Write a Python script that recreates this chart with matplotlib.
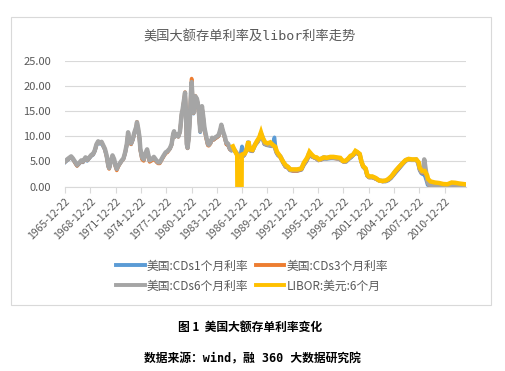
import matplotlib
matplotlib.use("Agg")
import matplotlib.pyplot as plt
from matplotlib.patches import Rectangle

plt.rcParams['font.family'] = ['Noto Sans CJK SC', 'DejaVu Sans']

# ---- data ----
cd_dates = [1965.97, 1966.3, 1966.7, 1966.9, 1967.2, 1967.4, 1967.7, 1967.9, 1968.1, 1968.4,
            1968.6, 1968.9, 1969.1, 1969.3, 1969.5, 1969.7, 1969.9, 1970.1, 1970.3, 1970.5,
            1970.7, 1970.9, 1971.1, 1971.2, 1971.4, 1971.6, 1971.8, 1971.95, 1972.1, 1972.3,
            1972.5, 1972.7, 1972.9, 1973.1, 1973.3, 1973.45, 1973.6, 1973.8, 1974.0, 1974.2,
            1974.4, 1974.5, 1974.65, 1974.8, 1974.9, 1975.1, 1975.3, 1975.5, 1975.7, 1975.85,
            1976.0, 1976.3, 1976.5, 1976.8, 1977.0, 1977.2, 1977.4, 1977.6, 1977.9, 1978.1,
            1978.4, 1978.6, 1978.8, 1978.9, 1979.0, 1979.2, 1979.4, 1979.6, 1979.8, 1979.9,
            1980.1, 1980.2, 1980.3, 1980.4, 1980.5, 1980.65, 1980.8, 1980.9, 1980.98, 1981.1,
            1981.2, 1981.3, 1981.4, 1981.6, 1981.7, 1981.85, 1982.0, 1982.1, 1982.2, 1982.35,
            1982.5, 1982.7, 1982.9, 1983.0, 1983.2, 1983.4, 1983.6, 1983.8, 1984.0, 1984.2,
            1984.4, 1984.5, 1984.7, 1984.9, 1985.1, 1985.3, 1985.5, 1985.7, 1985.9, 1986.1,
            1986.3, 1986.5, 1986.7, 1986.95, 1987.05, 1987.2, 1987.5, 1987.7, 1987.9, 1988.2,
            1988.5, 1988.8, 1989.0, 1989.2, 1989.4, 1989.6, 1989.9, 1990.2, 1990.5, 1990.8,
            1991.0, 1991.2, 1991.5, 1991.8, 1992.1, 1992.4, 1992.6, 1993.0, 1993.5, 1994.0,
            1994.3, 1994.6, 1994.9, 1995.1, 1995.4, 1995.7, 1996.0, 1996.3, 1996.6, 1997.0,
            1997.5, 1998.0, 1998.4, 1998.8, 1999.0, 1999.3, 1999.6, 1999.9, 2000.2, 2000.4,
            2000.6, 2000.9, 2001.1, 2001.3, 2001.6, 2001.8, 2002.0, 2002.4, 2002.8, 2003.2,
            2003.6, 2004.0, 2004.3, 2004.6, 2004.9, 2005.2, 2005.5, 2005.8, 2006.1, 2006.4,
            2006.7, 2007.0, 2007.4, 2007.6, 2007.8, 2008.0, 2008.2, 2008.4, 2008.55, 2008.8,
            2008.95, 2009.1, 2009.5, 2010.0, 2010.5, 2011.0, 2011.5, 2012.0, 2012.5, 2013.0,
            2013.4]

cd6 = [5.0, 5.5, 6.0, 5.6, 4.8, 4.3, 4.8, 5.2, 5.0, 5.8,
       5.3, 5.9, 6.3, 6.5, 7.2, 8.4, 9.0, 8.7, 8.9, 8.2,
       7.5, 6.2, 4.2, 3.7, 5.0, 6.2, 5.4, 4.2, 3.5, 4.2,
       4.7, 5.2, 5.6, 6.8, 8.5, 10.8, 9.2, 8.6, 9.5, 10.8,
       11.8, 12.8, 11.5, 9.8, 7.5, 5.8, 5.4, 6.6, 7.4, 6.3,
       5.2, 5.5, 5.9, 5.2, 4.8, 4.8, 5.4, 6.0, 6.8, 7.0,
       7.6, 8.4, 10.5, 11.0, 10.0, 10.4, 10.0, 11.0, 14.5, 15.2,
       17.5, 18.7, 15.0, 8.5, 7.7, 10.0, 14.5, 18.7, 20.8, 17.0,
       14.7, 16.5, 18.0, 17.5, 16.7, 14.5, 11.0, 14.0, 16.0, 14.0,
       11.7, 10.0, 8.5, 8.3, 8.7, 9.7, 9.5, 9.8, 10.0, 10.3,
       11.5, 12.3, 11.0, 10.0, 8.7, 8.5, 7.6, 7.3, 7.6, 7.2,
       6.7, 6.4, 6.0, 6.2, 6.1, 6.3, 7.6, 8.8, 7.4, 7.2,
       8.4, 9.0, 9.6, 10.5, 9.8, 8.6, 8.4, 8.3, 8.2, 8.0,
       7.0, 6.4, 6.0, 5.0, 4.1, 3.9, 3.4, 3.3, 3.3, 3.6,
       4.6, 5.3, 6.6, 6.3, 5.9, 5.7, 5.3, 5.4, 5.8, 5.7,
       5.8, 5.7, 5.6, 5.2, 5.0, 5.1, 5.6, 6.0, 6.5, 6.9,
       6.8, 6.4, 5.0, 4.0, 3.5, 2.2, 1.9, 1.9, 1.6, 1.2,
       1.1, 1.1, 1.4, 1.9, 2.5, 3.2, 3.7, 4.3, 4.8, 5.3,
       5.4, 5.3, 5.3, 5.4, 4.8, 3.6, 3.0, 2.9, 5.4, 2.5,
       1.0, 0.4, 0.3, 0.25, 0.3, 0.25, 0.3, 0.4, 0.35, 0.3,
       0.25]

cd3 = [4.9, 5.4, 5.9, 5.5, 4.6, 4.1, 4.7, 5.1, 4.9, 5.7,
       5.2, 5.8, 6.2, 6.4, 7.1, 8.3, 8.9, 8.6, 8.8, 8.1,
       7.4, 6.0, 4.0, 3.5, 4.9, 6.1, 5.2, 4.0, 3.2, 4.0,
       4.6, 5.1, 5.5, 6.7, 8.4, 10.7, 9.0, 8.4, 9.3, 10.6,
       11.7, 12.9, 11.3, 9.5, 7.2, 5.4, 5.1, 6.3, 7.1, 6.0,
       4.9, 5.2, 5.6, 4.9, 4.6, 4.6, 5.2, 5.8, 6.6, 6.8,
       7.5, 8.3, 10.4, 10.9, 9.9, 10.3, 9.9, 10.9, 14.4, 15.1,
       17.6, 18.8, 14.8, 8.3, 7.6, 9.9, 14.6, 19.2, 21.5, 17.2,
       14.6, 16.4, 18.1, 17.4, 16.5, 14.2, 11.0, 13.8, 15.8, 13.8,
       11.3, 9.6, 8.2, 8.1, 8.5, 9.5, 9.3, 9.6, 9.8, 10.1,
       11.3, 12.1, 10.8, 9.7, 8.4, 8.2, 7.4, 7.2, 7.4, 7.0,
       6.6, 6.3, 5.9, 6.5, 6.0, 6.2, 7.4, 8.6, 7.2, 7.1,
       8.3, 8.9, 9.5, 10.3, 9.6, 8.5, 8.3, 8.2, 8.1, 8.0,
       6.9, 6.3, 5.8, 4.8, 3.9, 3.7, 3.3, 3.1, 3.1, 3.4,
       4.4, 5.1, 6.3, 6.1, 5.8, 5.6, 5.2, 5.3, 5.6, 5.6,
       5.7, 5.6, 5.5, 5.1, 4.9, 5.0, 5.5, 5.9, 6.4, 6.7,
       6.6, 6.3, 4.9, 3.9, 3.4, 2.1, 1.8, 1.8, 1.5, 1.2,
       1.0, 1.1, 1.3, 1.7, 2.3, 3.0, 3.5, 4.1, 4.7, 5.2,
       5.3, 5.3, 5.3, 5.3, 4.9, 3.4, 2.8, 2.7, 3.0, 2.2,
       0.8, 0.3, 0.25, 0.2, 0.25, 0.22, 0.25, 0.35, 0.3, 0.25,
       0.22]

cd1 = [4.8, 5.3, 5.8, 5.4, 4.6, 4.1, 4.6, 5.0, 4.8, 5.6,
       5.1, 5.7, 6.1, 6.3, 7.0, 8.2, 8.8, 8.5, 8.7, 8.0,
       7.3, 6.0, 4.0, 3.6, 4.8, 6.0, 5.2, 4.1, 3.4, 4.1,
       4.6, 5.1, 5.5, 6.6, 8.3, 10.5, 9.0, 8.4, 9.2, 10.5,
       11.5, 12.5, 11.2, 9.5, 7.3, 5.6, 5.2, 6.4, 7.2, 6.1,
       5.0, 5.3, 5.7, 5.0, 4.7, 4.7, 5.3, 5.9, 6.7, 6.9,
       7.5, 8.3, 10.4, 10.9, 9.9, 10.3, 9.9, 10.9, 14.3, 15.0,
       17.3, 18.5, 14.8, 8.4, 7.6, 9.9, 14.3, 18.5, 20.6, 16.8,
       14.5, 16.3, 17.8, 17.3, 16.5, 14.3, 10.8, 13.8, 15.8, 13.8,
       11.5, 9.8, 8.3, 8.2, 8.6, 9.5, 9.3, 9.6, 9.8, 10.1,
       11.3, 12.1, 10.8, 9.7, 8.4, 8.2, 7.4, 7.1, 7.4, 7.0,
       6.5, 6.2, 5.9, 8.0, 6.0, 6.2, 7.3, 8.6, 7.1, 7.0,
       8.2, 8.8, 9.4, 10.2, 9.5, 8.4, 8.2, 8.1, 8.0, 9.8,
       6.8, 6.2, 5.8, 4.7, 3.9, 3.7, 3.2, 3.1, 3.1, 3.3,
       4.3, 5.0, 6.1, 6.0, 5.8, 5.6, 5.2, 5.3, 5.5, 5.5,
       5.6, 5.6, 5.5, 5.1, 4.9, 4.9, 5.4, 5.8, 6.3, 6.6,
       6.6, 6.3, 4.9, 3.9, 3.4, 2.1, 1.8, 1.8, 1.5, 1.2,
       1.0, 1.0, 1.2, 1.6, 2.2, 2.8, 3.4, 4.0, 4.6, 5.1,
       5.3, 5.3, 5.3, 5.3, 4.9, 3.2, 2.6, 2.4, 2.5, 1.2,
       0.3, 0.2, 0.2, 0.2, 0.22, 0.2, 0.2, 0.3, 0.25, 0.22,
       0.2]

libor_dates = [1985.87, 1986.05, 1986.38, 1986.4, 1986.9, 1986.92, 1987.3, 1987.5, 1987.7, 1987.9,
               1988.2, 1988.5, 1988.7, 1989.0, 1989.2, 1989.4, 1989.7, 1990.0, 1990.3, 1990.6,
               1990.9, 1991.1, 1991.4, 1991.8, 1992.1, 1992.4, 1992.7, 1993.0, 1993.5, 1994.0,
               1994.3, 1994.7, 1994.95, 1995.2, 1995.5, 1995.8, 1996.1, 1996.4, 1996.7, 1997.0,
               1997.4, 1997.8, 1998.2, 1998.6, 1998.9, 1999.2, 1999.5, 1999.8, 2000.1, 2000.4,
               2000.6, 2000.9, 2001.1, 2001.3, 2001.6, 2001.8, 2002.0, 2002.4, 2002.8, 2003.2,
               2003.6, 2004.0, 2004.3, 2004.7, 2005.0, 2005.5, 2005.9, 2006.3, 2006.7, 2007.1,
               2007.6, 2007.9, 2008.0, 2008.3, 2008.6, 2008.9, 2009.0, 2009.3, 2009.8, 2010.3,
               2010.8, 2011.3, 2011.8, 2012.2, 2012.7, 2013.4]

libor = [8.0, 7.3, 6.2, 0.0, 0.0, 6.3, 6.6, 7.3, 9.0, 7.4,
         7.3, 8.3, 9.0, 9.8, 10.8, 9.7, 8.8, 8.6, 8.8, 8.3,
         7.9, 6.9, 6.2, 5.0, 4.3, 3.9, 3.4, 3.4, 3.4, 3.6,
         4.8, 5.8, 6.9, 6.4, 5.9, 5.8, 5.4, 5.6, 5.8, 5.7,
         5.9, 5.9, 5.8, 5.7, 5.1, 5.1, 5.5, 6.1, 6.3, 7.1,
         6.9, 6.5, 5.0, 4.1, 3.6, 2.3, 2.0, 2.0, 1.7, 1.2,
         1.1, 1.2, 1.5, 2.1, 2.8, 3.8, 4.5, 5.2, 5.5, 5.4,
         5.4, 4.8, 3.8, 3.1, 3.1, 2.2, 1.5, 1.0, 0.8, 0.7,
         0.5, 0.45, 0.8, 0.75, 0.6, 0.45]

series_names = ['美国:CDs1个月利率', '美国:CDs3个月利率', '美国:CDs6个月利率', 'LIBOR:美元:6个月']
series_colors = ['#5B9BD5', '#ED7D31', '#A5A5A5', '#FFC000']

tick_years = [1965.97 + 3 * k for k in range(16)]
tick_labels = ['1965-12-22', '1968-12-22', '1971-12-22', '1974-12-22', '1977-12-22',
               '1980-12-22', '1983-12-22', '1986-12-22', '1989-12-22', '1992-12-22',
               '1995-12-22', '1998-12-22', '2001-12-22', '2004-12-22', '2007-12-22',
               '2010-12-22']
y_ticks = [0, 5, 10, 15, 20, 25]

title = '美国大额存单利率及libor利率走势'
caption = '图 1  美国大额存单利率变化'
source = '数据来源：wind，融 360 大数据研究院'

# ---- figure ----
W, H = 506, 371
fig = plt.figure(figsize=(W / 100, H / 100), dpi=100)
fig.patch.set_facecolor('white')

# chart frame
fig.patches.append(Rectangle((11 / W, 1 - 305 / H), 480 / W, 288 / H,
                             transform=fig.transFigure, fill=False,
                             edgecolor='#D9D9D9', linewidth=0.8))

ax = fig.add_axes([65 / W, 1 - 186.5 / H, 401 / W, 125.5 / H])
l1, = ax.plot(cd_dates, cd1, color=series_colors[0], lw=2.6, solid_joinstyle='round')
l2, = ax.plot(cd_dates, cd3, color=series_colors[1], lw=2.6, solid_joinstyle='round')
l3, = ax.plot(cd_dates, cd6, color=series_colors[2], lw=3.2, solid_joinstyle='round')
l4, = ax.plot(libor_dates, libor, color=series_colors[3], lw=3.2, solid_joinstyle='miter')

ax.set_xlim(1965.97, 2013.5)
ax.set_ylim(0, 25)
ax.set_yticks(y_ticks)
ax.set_yticklabels([f'{v:.2f}' for v in y_ticks])
ax.set_xticks(tick_years)
ax.set_xticklabels(tick_labels, rotation=45, ha='right', rotation_mode='anchor')
ax.grid(axis='y', color='#D9D9D9', lw=0.8)
ax.set_axisbelow(True)
for s in ['left', 'right', 'top']:
    ax.spines[s].set_visible(False)
ax.spines['bottom'].set_color('#D9D9D9')
ax.spines['bottom'].set_linewidth(0.8)
ax.tick_params(axis='y', length=0, labelsize=8, labelcolor='#595959', pad=10)
ax.tick_params(axis='x', length=4, color='#D9D9D9', width=0.8,
               labelsize=7.5, labelcolor='#595959', pad=3)
ax.patch.set_alpha(0)

fig.text(250 / W, 1 - 37 / H, title, ha='center', va='center', fontsize=9.5,
         color='#595959', family=['DejaVu Sans Mono', 'Noto Sans CJK SC'])

leg = fig.legend([l1, l3, l2, l4],
                 [series_names[0], series_names[2], series_names[1], series_names[3]],
                 ncol=2, loc='center', bbox_to_anchor=(252 / W, 1 - 276 / H),
                 frameon=False, fontsize=8.5, handlelength=2.4, handletextpad=0.2,
                 columnspacing=0.6, labelspacing=0.6, labelcolor='#595959')
for h in leg.legend_handles:
    h.set_linewidth(2.8)

fig.text(250 / W, 1 - 327 / H, caption, ha='center', va='center', fontsize=8.5,
         color='black', fontweight='bold')
fig.text(252 / W, 1 - 359 / H, source, ha='center', va='center', fontsize=8.5,
         color='black', fontweight='bold', family=['DejaVu Sans Mono', 'Noto Sans CJK SC'])

fig.savefig('out.png', dpi=100, facecolor='white')
